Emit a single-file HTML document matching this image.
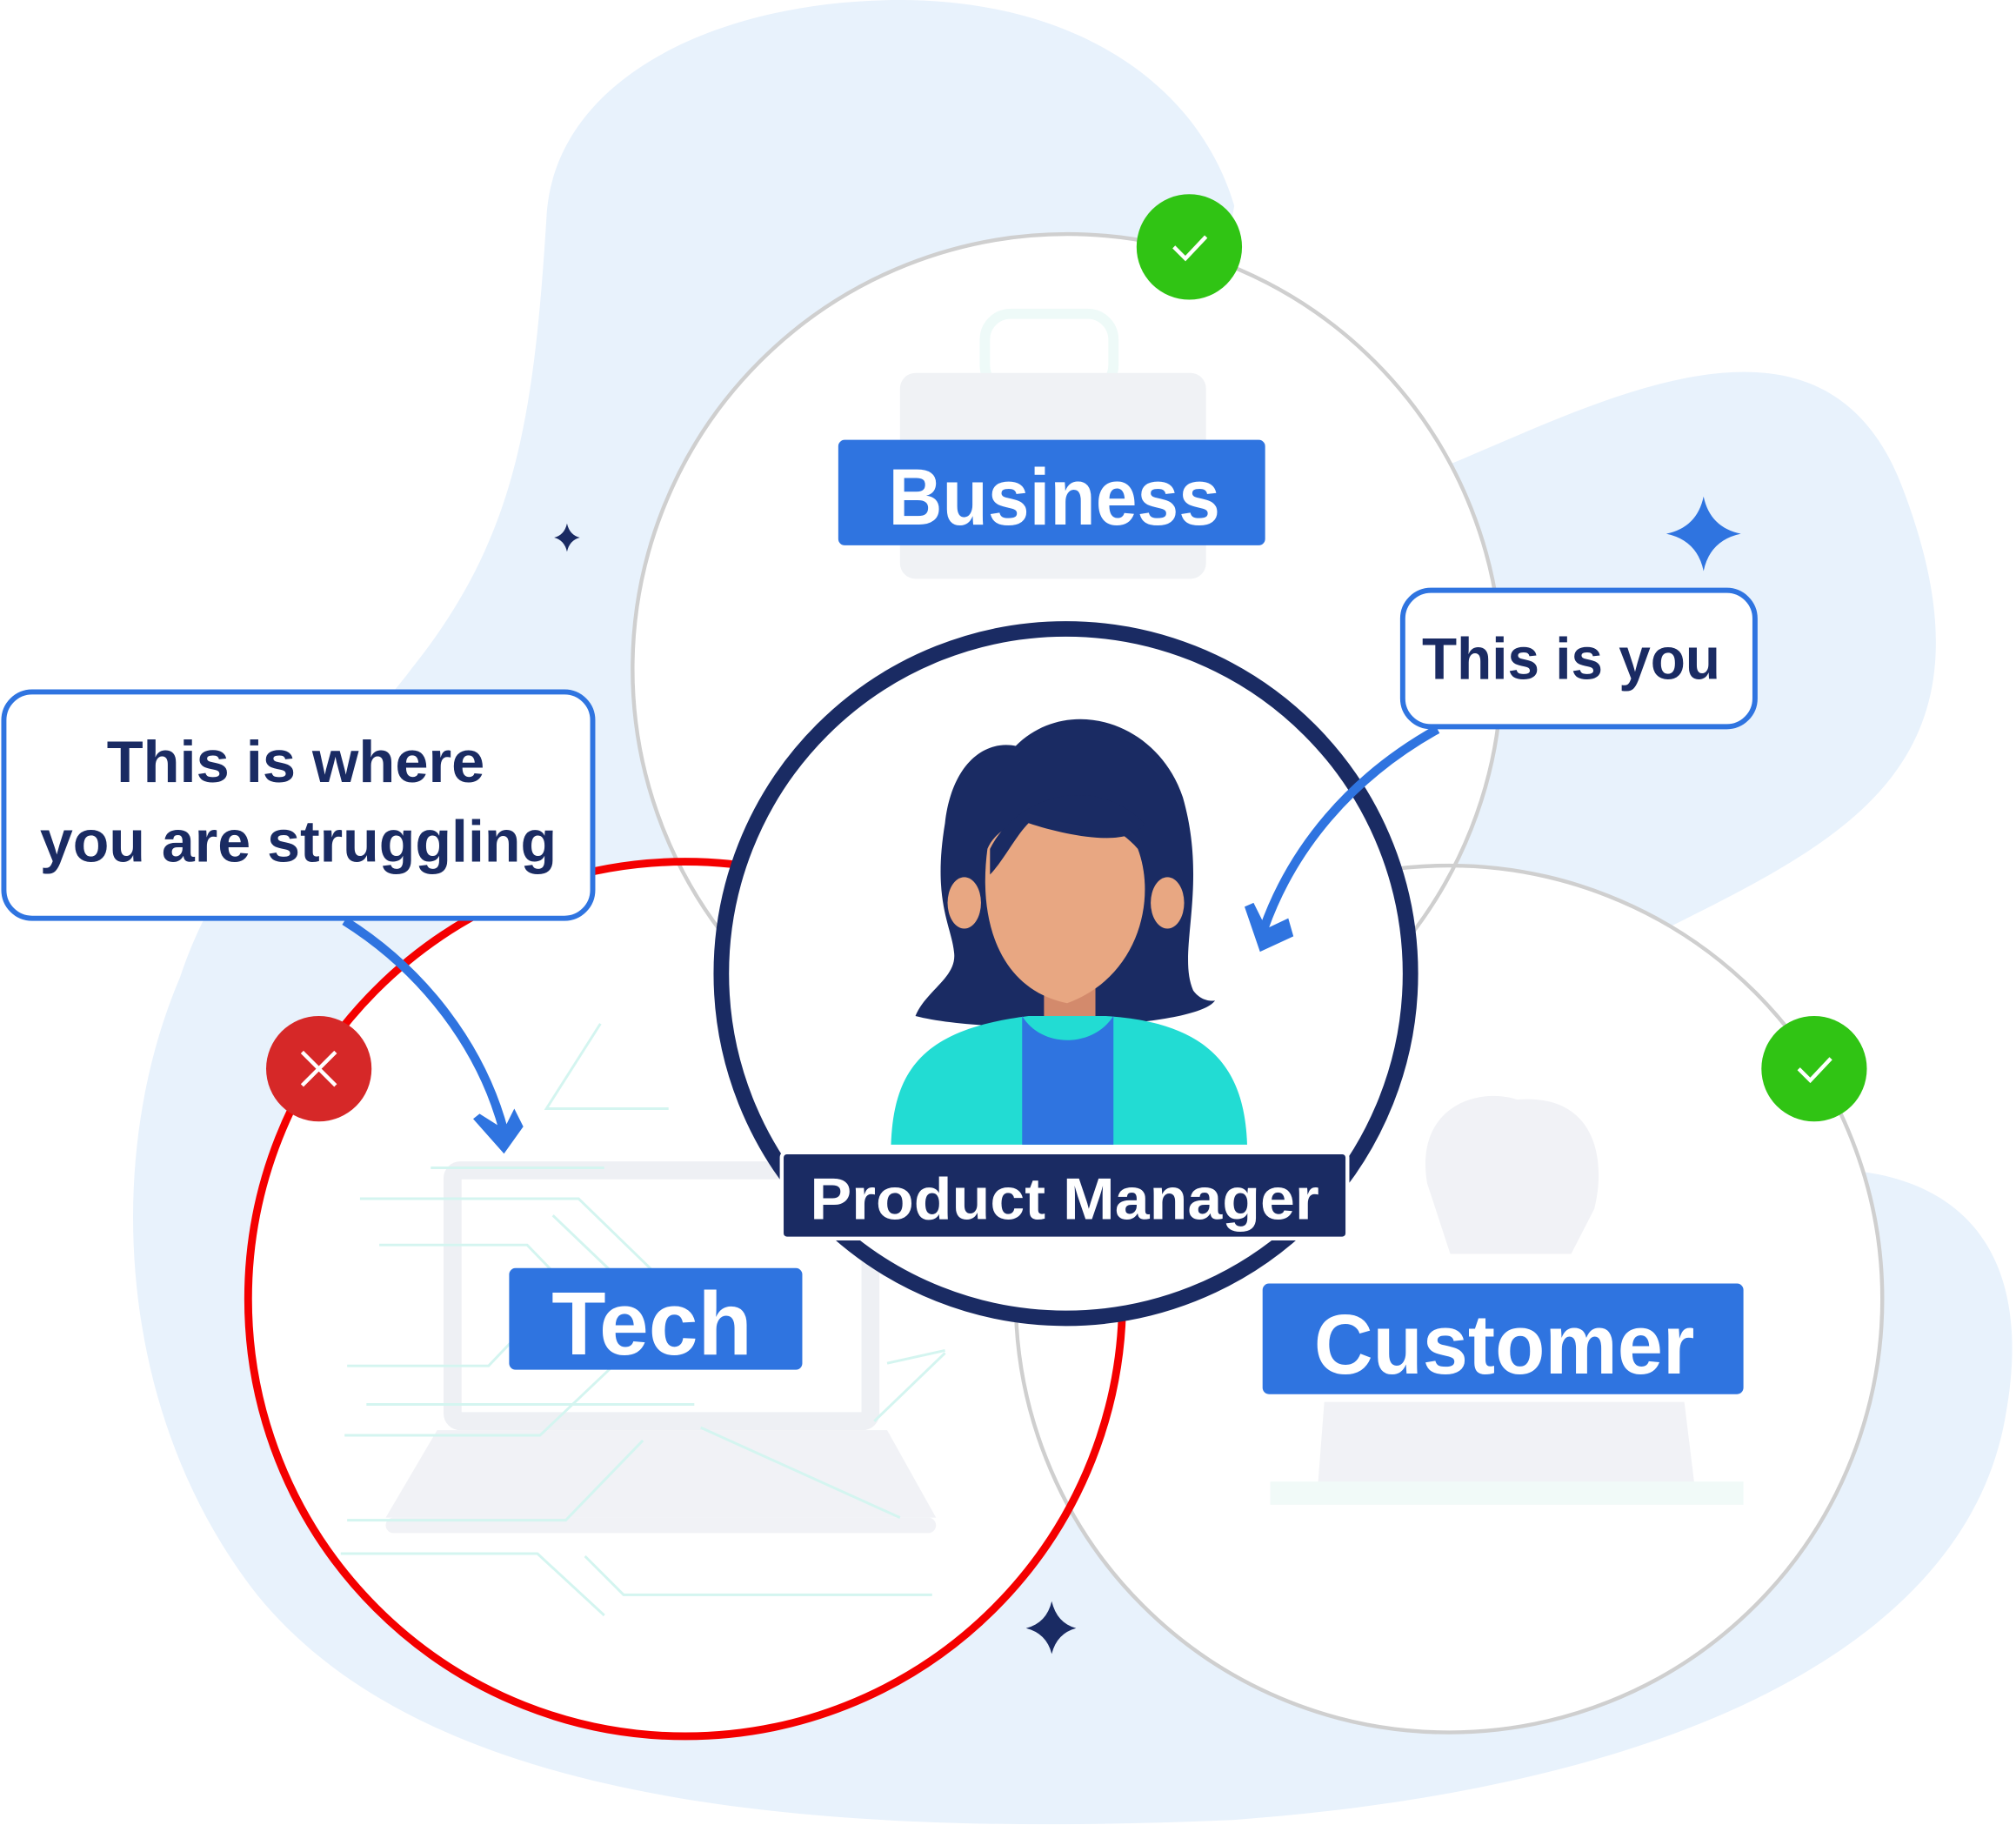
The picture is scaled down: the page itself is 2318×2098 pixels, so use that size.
<!DOCTYPE html>
<html><head><meta charset="utf-8"><style>html,body{margin:0;padding:0;background:#fff}svg{display:block}</style></head>
<body>
<svg width="2318" height="2098" viewBox="0 0 1568 1419" preserveAspectRatio="none" xmlns="http://www.w3.org/2000/svg" font-family="Liberation Sans, sans-serif" font-weight="bold">
<path fill="#e8f2fc" d="M425,170 C430,60 560,0 700,0 C830,0 930,60 960,160 C950,220 930,260 900,300 L1130,360 C1250,310 1420,220 1480,380 C1560,590 1440,650 1300,720 L1440,910 C1540,920 1580,990 1560,1100 C1530,1280 1300,1390 960,1415 C620,1430 330,1400 200,1240 C90,1100 80,900 140,760 C180,640 260,600 320,520 C400,420 415,330 425,170 Z"/>
<circle cx="830" cy="520" r="338" fill="#fff"/>
<circle cx="1127" cy="1010" r="337" fill="#fff"/>
<circle cx="533" cy="1010" r="340" fill="#fff"/>
<rect x="766" y="244" width="100" height="60" rx="20" fill="none" stroke="#eefaf8" stroke-width="8"/>
<rect x="700" y="290" width="238" height="160" rx="12" fill="#f0f2f5"/>
<g fill="#f1f2f6">
<rect x="352" y="910" width="325" height="195" rx="6" fill="none" stroke="#eef0f4" stroke-width="14"/>
<path d="M340,1112 L690,1112 L728,1180 L300,1180 Z"/>
<rect x="300" y="1180" width="428" height="12" rx="6"/>
<path d="M1030,1090 L1310,1090 L1318,1155 L1025,1155 Z"/>
<rect x="988" y="1152" width="368" height="18" fill="#f1faf8"/>
<path d="M1110,920 C1100,860 1150,845 1180,855 C1240,850 1250,900 1240,940 L1222,975 L1128,975 Z"/>
</g>
<g stroke="#d4f5f0" stroke-width="2" fill="none">
<path d="M280,932 H450 L520,1000"/><path d="M295,968 H410 L470,1030"/><path d="M270,1062 H380 L420,1020"/><path d="M285,1092 H540"/><path d="M268,1116 H420 L500,1040"/><path d="M270,1182 H440 L500,1120"/><path d="M265,1208 H418 L470,1256"/><path d="M455,1210 L485,1240 H725"/><path d="M430,945 L500,1012"/><path d="M520,862 H425 L467,796"/><path d="M335,908 H470"/><path d="M690,1060 L735,1050"/><path d="M680,1105 L735,1052"/><path d="M545,1110 L700,1180"/>
</g>
<circle cx="830" cy="520" r="338" fill="none" stroke="#cfcfcf" stroke-width="3"/>
<circle cx="1127" cy="1010" r="337" fill="none" stroke="#cfcfcf" stroke-width="3"/>
<circle cx="533" cy="1010" r="340" fill="none" stroke="#f40000" stroke-width="6"/>
<circle cx="829" cy="757" r="268" fill="#fff" stroke="#1a2b63" stroke-width="12"/>
<path fill="#1a2b63" d="M790,580 C830,540 900,560 920,620 C940,690 915,740 928,770 C935,780 945,778 945,778 C930,800 770,805 712,790 C720,770 745,760 742,740 C740,720 725,700 735,640 C740,595 765,575 790,580 Z"/>
<ellipse cx="750" cy="702" rx="13" ry="20" fill="#e8a782"/>
<ellipse cx="908" cy="702" rx="13" ry="20" fill="#e8a782"/>
<rect x="812" y="760" width="40" height="40" fill="#d38a6c"/>
<path fill="#e8a782" d="M768,660 C780,630 850,620 885,660 C900,700 885,760 830,780 C780,770 760,720 768,660 Z"/>
<path fill="#1a2b63" d="M770,660 C790,620 850,600 890,640 C880,660 830,650 800,640 C790,650 780,670 770,680 Z"/>
<path fill="#22dcd3" d="M693,890 C695,830 720,800 800,790 L860,790 C940,795 968,830 970,890 Z"/>
<path fill="#2f74e0" d="M795,790 C810,815 850,815 866,790 L866,890 L795,890 Z"/>
<rect x="608" y="896" width="440" height="67" rx="4" fill="#1a2b63" stroke="#fff" stroke-width="3"/>
<text x="828" y="948" text-anchor="middle" font-size="46" fill="#fff" textLength="396" lengthAdjust="spacingAndGlyphs">Product Manager</text>
<rect x="652" y="342" width="332" height="82" rx="5" fill="#2f74e0"/>
<text x="820" y="408" text-anchor="middle" font-size="62" fill="#fff" textLength="258" lengthAdjust="spacingAndGlyphs">Business</text>
<rect x="396" y="986" width="228" height="79" rx="5" fill="#2f74e0"/>
<text x="507" y="1053" text-anchor="middle" font-size="70" fill="#fff" textLength="156" lengthAdjust="spacingAndGlyphs">Tech</text>
<rect x="982" y="998" width="374" height="86" rx="5" fill="#2f74e0"/>
<text x="1170" y="1068" text-anchor="middle" font-size="66" fill="#fff" textLength="296" lengthAdjust="spacingAndGlyphs">Customer</text>
<rect x="1091" y="459" width="274" height="106" rx="22" fill="#fff" stroke="#2f74e0" stroke-width="4"/>
<text x="1222" y="528" text-anchor="middle" font-size="46" fill="#1a2b63" textLength="232" lengthAdjust="spacingAndGlyphs">This is you</text>
<rect x="3" y="538" width="458" height="176" rx="22" fill="#fff" stroke="#2f74e0" stroke-width="4"/>
<text x="230" y="608" text-anchor="middle" font-size="46" fill="#1a2b63" textLength="294" lengthAdjust="spacingAndGlyphs">This is where</text>
<text x="232" y="670" text-anchor="middle" font-size="46" fill="#1a2b63" textLength="402" lengthAdjust="spacingAndGlyphs">you are struggling</text>
<path d="M1118,567 C1050,605 1005,660 983,722" fill="none" stroke="#2f74e0" stroke-width="7"/>
<path d="M968,705 L980,740 L1006,728 L1002,714 L985,722 L975,702 Z" fill="#2f74e0"/>
<path d="M268,716 C330,755 375,815 392,880" fill="none" stroke="#2f74e0" stroke-width="7"/>
<path d="M368,870 L392,897 L407,876 L400,862 L392,878 L373,866 Z" fill="#2f74e0"/>
<circle cx="925" cy="192" r="41" fill="#30c414"/>
<path d="M913,192 L922,201 L938,184" stroke="#fff" stroke-width="3" fill="none"/>
<circle cx="1411" cy="831" r="41" fill="#30c414"/>
<path d="M1399,831 L1408,840 L1424,823" stroke="#fff" stroke-width="3" fill="none"/>
<circle cx="248" cy="831" r="41" fill="#d62828"/>
<path d="M235,818 L261,844 M261,818 L235,844" stroke="#fff" stroke-width="3"/>
<g fill="#2f74e0"><path d="M1325,386 Q1330,410 1354,415 Q1330,420 1325,444 Q1320,420 1296,415 Q1320,410 1325,386 Z"/></g>
<g fill="#1a2b63"><path d="M818,1245 Q822,1262 837,1266 Q822,1270 818,1286 Q814,1270 798,1266 Q814,1262 818,1245 Z"/>
<path d="M441,407 Q443,416 451,418 Q443,420 441,429 Q439,420 431,418 Q439,416 441,407 Z"/></g>
</svg>
</body></html>
